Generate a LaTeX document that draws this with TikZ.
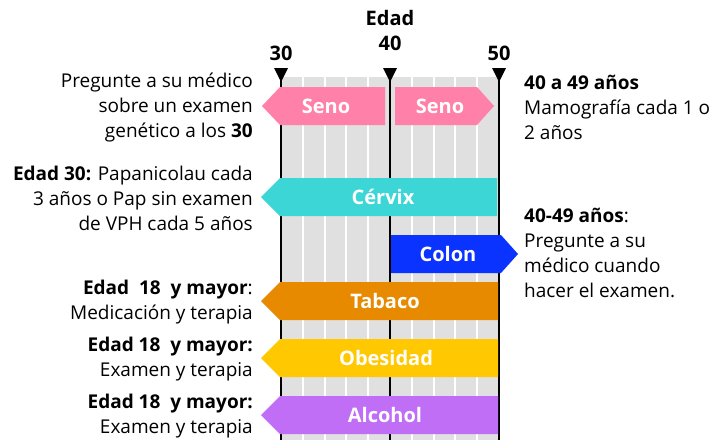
\documentclass[tikz,border=0pt]{standalone}
\usepackage{fontspec}
\setmainfont{Open Sans}
\definecolor{seno}{RGB}{255,128,168}
\definecolor{cervix}{RGB}{61,214,214}
\definecolor{colon}{RGB}{10,51,255}
\definecolor{tabaco}{RGB}{232,138,0}
\definecolor{obes}{RGB}{255,200,0}
\definecolor{alco}{RGB}{191,110,245}
\definecolor{bggray}{RGB}{224,224,224}
\begin{document}
\begin{tikzpicture}[x=1pt,y=-1pt,
  lbl/.style={font=\fontsize{19}{25}\selectfont, inner sep=0pt},
  leftlbl/.style={lbl, align=right, anchor=east},
  rightlbl/.style={lbl, align=left, anchor=west},
  barlbl/.style={font=\fontsize{20}{22}\selectfont\bfseries, text=white, inner sep=0pt},
  axlbl/.style={font=\fontsize{20}{22}\selectfont\bfseries, inner sep=0pt},
  tick/.style={line width=2.5pt},
  grid/.style={white, line width=2pt}]
\useasboundingbox (0,0) rectangle (718,440);
% background
\fill[bggray] (281,77) rectangle (499,440);
\foreach \k in {1,2,3,4,6,7,8,9} {
  \draw[grid] ({281+21.8*\k},77) -- ({281+21.8*\k},440);
}
% axis ticks
\foreach \x/\n in {281/t30,390/t40,499/t50} {
  \coordinate (\n top) at (\x,70);
  \coordinate (\n bot) at (\x,440);
  \draw[tick] (\n top) -- (\n bot);
  \fill (\x-7,68) -- (\x+7,68) -- (\x,82) -- cycle;
}
\node[axlbl] (edad) at (390,18) {Edad};
\node[axlbl] (l40) at (390,43) {40};
\node[axlbl] (l30) at (281,53) {30};
\node[axlbl] (l50) at (499,53) {50};
% bars
\fill[seno] (262,106) -- (280,87) -- (385,87) -- (385,125) -- (280,125) -- cycle;
\node[barlbl] (seno1) at (326,106) {Seno};
\fill[seno] (395,87) -- (477,87) -- (494,106) -- (477,125) -- (395,125) -- cycle;
\node[barlbl] (seno2) at (440,106) {Seno};
\fill[cervix] (261,197) -- (280,178) -- (497,178) -- (497,216) -- (280,216) -- cycle;
\node[barlbl] (cervixl) at (383,197) {Cérvix};
\fill[colon] (391,235) -- (501,235) -- (518,254) -- (501,273) -- (391,273) -- cycle;
\node[barlbl] (colonl) at (448,254) {Colon};
\fill[tabaco] (261,301) -- (280,282) -- (498,282) -- (498,320) -- (280,320) -- cycle;
\node[barlbl] (tabacol) at (385,301) {Tabaco};
\fill[obes] (261,358) -- (280,339) -- (498,339) -- (498,377) -- (280,377) -- cycle;
\node[barlbl] (obesl) at (386,358) {Obesidad};
\fill[alco] (261,415) -- (280,396) -- (498,396) -- (498,434) -- (280,434) -- cycle;
\node[barlbl] (alcol) at (385,415) {Alcohol};
% left texts
\node[leftlbl] (t1) at (253,107) {Pregunte a su médico\\sobre un examen\\genético a los \textbf{30}};
\node[leftlbl] (t2) at (253,198) {\textbf{Edad 30:} Papanicolau cada\\3 años o Pap sin examen\\de VPH cada 5 años};
\node[leftlbl] (t3) at (253,302) {\textbf{Edad\ \ 18\ \ y mayor}:\\Medicación y terapia};
\node[leftlbl] (t4) at (253,359) {\textbf{Edad 18\ \ y mayor:}\\Examen y terapia};
\node[leftlbl] (t5) at (253,416) {\textbf{Edad 18\ \ y mayor:}\\Examen y terapia};
% right texts
\node[rightlbl] (r1) at (524,107) {\textbf{40 a 49 años}\\Mamografía cada 1 o\\2 años};
\node[rightlbl] (r2) at (524,253) {\textbf{40-49 años}:\\Pregunte a su\\médico cuando\\hacer el examen.};
\end{tikzpicture}
\end{document}
